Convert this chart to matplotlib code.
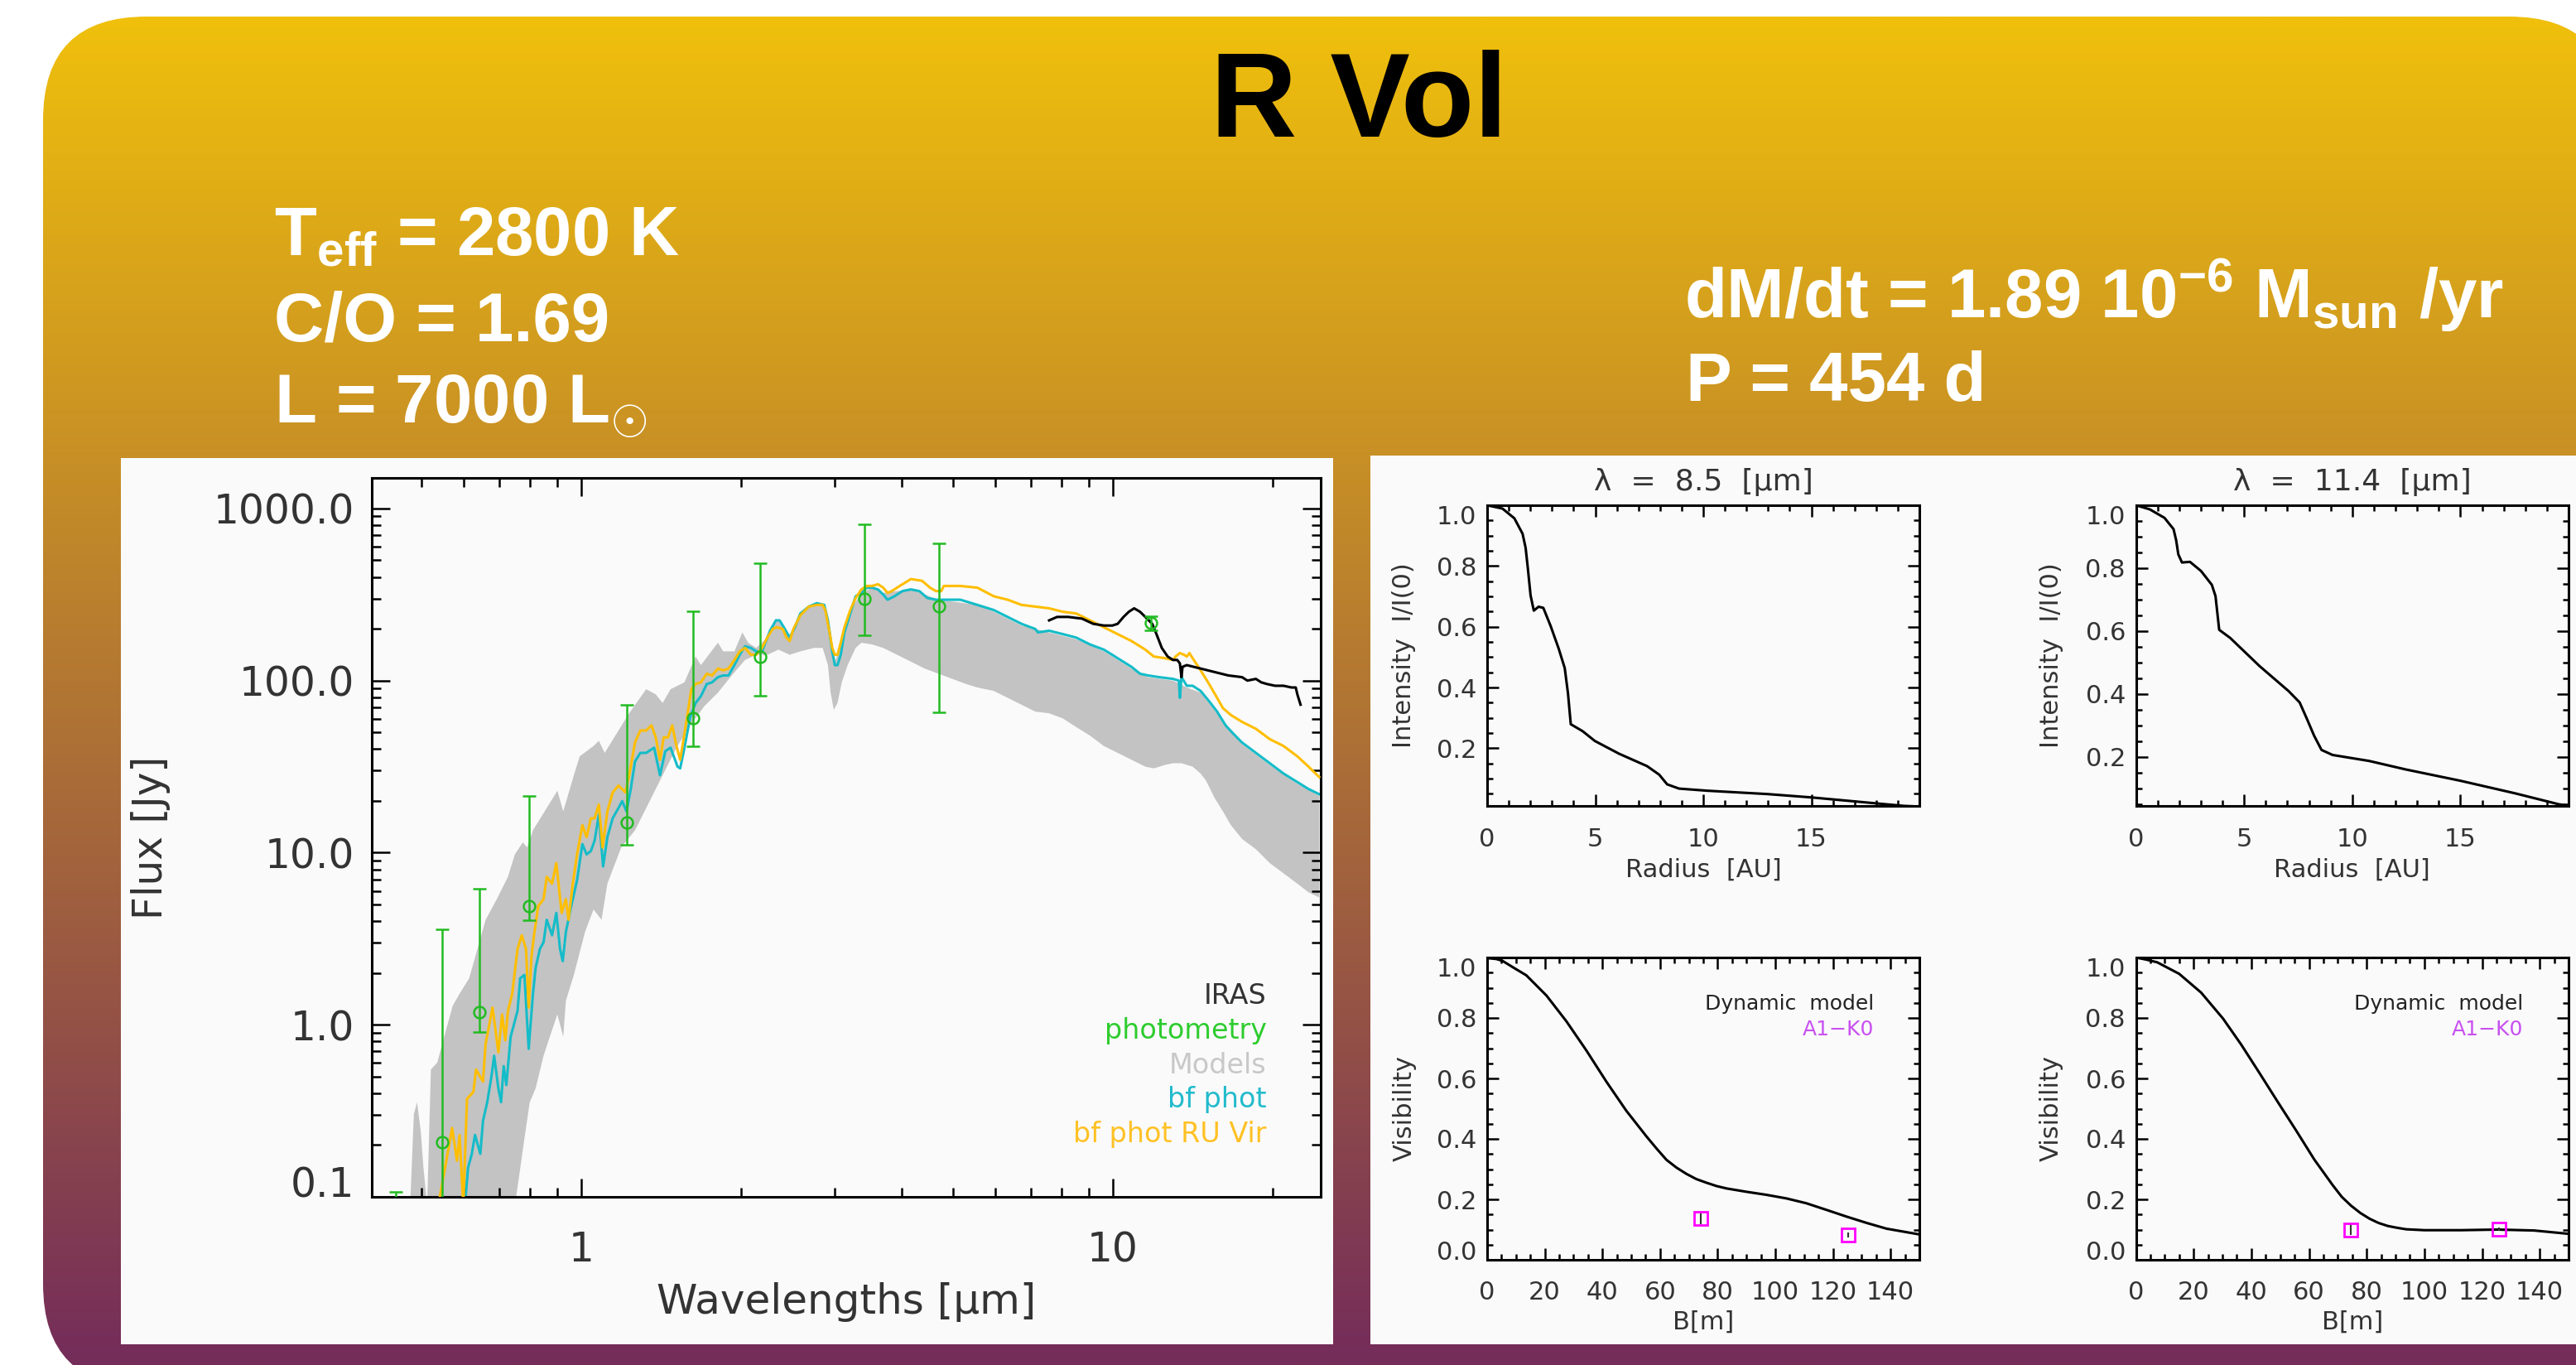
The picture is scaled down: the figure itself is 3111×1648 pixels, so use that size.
import numpy as np
import matplotlib
matplotlib.use('Agg')
import matplotlib.pyplot as plt
from matplotlib.patches import FancyBboxPatch, Rectangle
from matplotlib.ticker import FixedLocator, LogLocator, MultipleLocator, FuncFormatter, NullFormatter

plt.rcParams['font.family'] = ['DejaVu Sans']
plt.rcParams['mathtext.fontset'] = 'custom'
plt.rcParams['mathtext.rm'] = 'Liberation Sans:bold'
plt.rcParams['mathtext.it'] = 'Liberation Sans:bold'
plt.rcParams['mathtext.bf'] = 'Liberation Sans:bold'

# ---------------- SED data (log10 of wavelength [um] and flux [Jy]) ----------------
phot_wl = [0.448, 0.548, 0.644, 0.799, 1.22, 1.62, 2.17, 3.41, 4.70, 11.8]
phot_flux = [0.05, 0.207, 1.18, 4.90, 15.0, 60.8, 138, 298, 270, 216]
phot_lo = [0.04, 0.05, 0.908, 4.03, 11.05, 41.7, 81.9, 183, 65.7, 195]
phot_hi = [0.107, 3.57, 6.19, 21.3, 72.5, 254, 482, 807, 629, 237]

ruvir_logwl = [-0.269, -0.243, -0.234, -0.229, -0.222, -0.215, -0.203, -0.198, -0.185, -0.180,
               -0.167, -0.156, -0.149, -0.143, -0.138, -0.130, -0.120, -0.112, -0.104, -0.099,
               -0.094, -0.089, -0.081, -0.071, -0.065, -0.055, -0.047, -0.037, -0.029, -0.024,
               -0.016, -0.008, 0.002, 0.010, 0.018, 0.025, 0.033, 0.040, 0.049, 0.059,
               0.070, 0.083, 0.090,
               0.101, 0.111, 0.122, 0.132, 0.140, 0.148, 0.155, 0.163, 0.171, 0.179,
               0.186, 0.194, 0.202, 0.207, 0.215, 0.225, 0.236, 0.246, 0.257, 0.267,
               0.277, 0.288, 0.298, 0.308, 0.319, 0.329, 0.340, 0.350, 0.360, 0.368,
               0.379, 0.386, 0.392, 0.399, 0.412, 0.428, 0.443, 0.454, 0.459, 0.467,
               0.472, 0.477, 0.482, 0.488, 0.495, 0.506, 0.516, 0.527, 0.537, 0.547,
               0.558, 0.568, 0.576, 0.584, 0.599, 0.620, 0.641, 0.656, 0.667, 0.677,
               0.682, 0.698, 0.713, 0.745,
               0.776, 0.802, 0.828, 0.854, 0.880, 0.906, 0.931, 0.957, 0.983, 1.009,
               1.035, 1.061, 1.077, 1.098, 1.113, 1.118, 1.126, 1.134, 1.139, 1.144,
               1.150, 1.165, 1.181, 1.196, 1.207, 1.222, 1.243, 1.269, 1.295, 1.321,
               1.347, 1.368, 1.388]
ruvir_logf = [-1.05, -0.60, -0.79, -0.64, -1.05, -0.43, -0.39, -0.26, -0.33, -0.11,
              0.10, -0.16, 0.06, -0.09, 0.08, 0.18, 0.44, 0.52, 0.44, 0.10,
              0.39, 0.52, 0.69, 0.73, 0.86, 0.82, 0.94, 0.65, 0.73, 0.61,
              0.82, 0.99, 1.16, 1.09, 1.20, 1.20, 1.28, 1.03, 1.24, 1.35,
              1.39, 1.35, 1.45,
              1.64, 1.71, 1.71, 1.74, 1.67, 1.54, 1.67, 1.67, 1.74, 1.62,
              1.54, 1.69, 1.85, 1.95, 1.98, 1.99, 2.04, 2.03, 2.07, 2.06,
              2.07, 2.12, 2.17, 2.19, 2.15, 2.15, 2.19, 2.25, 2.30, 2.31,
              2.30, 2.25, 2.23, 2.30, 2.38, 2.43, 2.44, 2.44, 2.41, 2.28,
              2.19, 2.15, 2.15, 2.22, 2.31, 2.41, 2.48, 2.53, 2.55, 2.55,
              2.56, 2.54, 2.51, 2.52, 2.55, 2.59, 2.58, 2.54, 2.52, 2.52,
              2.55, 2.55, 2.55, 2.54,
              2.49, 2.47, 2.44, 2.43, 2.42, 2.40, 2.39, 2.35, 2.31, 2.27,
              2.23, 2.18, 2.14, 2.13, 2.12, 2.14, 2.16, 2.15, 2.14, 2.16,
              2.13, 2.06, 1.98, 1.90, 1.84, 1.80, 1.76, 1.72, 1.66, 1.62,
              1.56, 1.50, 1.44]

bfphot_logwl = [-0.219, -0.213, -0.206, -0.200, -0.190, -0.185, -0.177, -0.169, -0.164, -0.156,
                -0.151, -0.146, -0.141, -0.133, -0.120, -0.115, -0.107, -0.099, -0.091, -0.086,
                -0.078, -0.071, -0.065, -0.055, -0.047, -0.040, -0.035, -0.029, -0.019, -0.008,
                0.002, 0.010, 0.018, 0.025, 0.033, 0.041, 0.049, 0.059, 0.070, 0.077,
                0.085, 0.093,
                0.101, 0.111, 0.122, 0.137, 0.148, 0.158, 0.168, 0.181, 0.186, 0.194,
                0.205, 0.215, 0.225, 0.236, 0.246, 0.257, 0.267, 0.277, 0.288, 0.298,
                0.308, 0.319, 0.329, 0.340, 0.355, 0.366, 0.373, 0.381, 0.392, 0.402,
                0.412, 0.428, 0.443, 0.457, 0.464, 0.472, 0.477, 0.482, 0.488, 0.495,
                0.506, 0.516, 0.527, 0.537, 0.547, 0.558, 0.568, 0.576, 0.589, 0.604,
                0.620, 0.636, 0.651, 0.667, 0.693, 0.713, 0.745,
                0.776, 0.802, 0.828, 0.854, 0.859, 0.880, 0.906, 0.931, 0.957, 0.983,
                1.009, 1.035, 1.051, 1.066, 1.087, 1.113, 1.124, 1.126, 1.129, 1.139,
                1.150, 1.165, 1.181, 1.196, 1.212, 1.227, 1.243, 1.269, 1.295, 1.321,
                1.347, 1.368, 1.388]
bfphot_logf = [-1.05, -0.83, -0.75, -0.64, -0.75, -0.56, -0.45, -0.30, -0.18, -0.37,
               -0.45, -0.24, -0.35, -0.07, 0.08, 0.27, 0.29, -0.14, 0.18, 0.33,
               0.44, 0.48, 0.61, 0.52, 0.65, 0.44, 0.37, 0.54, 0.69, 0.84,
               1.05, 0.99, 1.01, 1.07, 1.22, 0.92, 1.09, 1.20, 1.26, 1.30,
               1.24, 1.37,
               1.53, 1.58, 1.58, 1.61, 1.45, 1.59, 1.61, 1.50, 1.49, 1.61,
               1.79, 1.87, 1.91, 1.98, 1.99, 2.02, 2.03, 2.03, 2.09, 2.15,
               2.20, 2.19, 2.17, 2.17, 2.29, 2.35, 2.35, 2.31, 2.25, 2.31,
               2.39, 2.43, 2.45, 2.44, 2.35, 2.17, 2.09, 2.09, 2.15, 2.28,
               2.39, 2.49, 2.51, 2.54, 2.54, 2.53, 2.50, 2.47, 2.49, 2.52,
               2.53, 2.52, 2.48, 2.47, 2.47, 2.47, 2.44,
               2.41, 2.37, 2.33, 2.30, 2.28, 2.29, 2.27, 2.25, 2.21, 2.18,
               2.13, 2.08, 2.04, 2.03, 2.02, 2.01, 2.00, 1.90, 2.02, 1.97,
               1.97, 1.94, 1.88, 1.82, 1.74, 1.69, 1.64, 1.58, 1.52, 1.46,
               1.41, 1.37, 1.34]

iras_logwl = [0.880, 0.895, 0.916, 0.942, 0.963, 0.983, 0.999, 1.009, 1.020, 1.030,
              1.040, 1.051, 1.061, 1.074, 1.082, 1.092, 1.103, 1.113, 1.121, 1.126,
              1.129, 1.131, 1.139, 1.165, 1.191, 1.217, 1.243, 1.253, 1.269, 1.279,
              1.290, 1.305, 1.321, 1.336, 1.344, 1.347, 1.353]
iras_logf = [2.35, 2.37, 2.37, 2.36, 2.33, 2.32, 2.32, 2.33, 2.37, 2.40,
             2.42, 2.40, 2.37, 2.33, 2.27, 2.19, 2.14, 2.12, 2.12, 2.10,
             2.02, 2.08, 2.09, 2.07, 2.05, 2.03, 2.02, 2.00, 2.01, 1.99,
             1.98, 1.97, 1.97, 1.96, 1.96, 1.92, 1.86]

# envelope of the grid of models (upper edge, lower edge)
models_top_logwl = [-0.322, -0.315, -0.309, -0.302, -0.297, -0.290, -0.283, -0.271, -0.258, -0.242,
                    -0.229, -0.211, -0.200, -0.180, -0.159, -0.138, -0.125, -0.110, -0.102, -0.091,
                    -0.065, -0.045, -0.034, -0.014, -0.003, 0.023, 0.033, 0.044, 0.064, 0.090,
                    0.122, 0.140, 0.153, 0.168, 0.194, 0.215, 0.225, 0.257, 0.267, 0.288,
                    0.303, 0.314, 0.329, 0.350, 0.366, 0.381, 0.392, 0.412, 0.443, 0.457,
                    0.464, 0.472, 0.477, 0.488, 0.506, 0.527, 0.547, 0.568, 0.620, 0.672,
                    0.745,
                    0.776, 0.828, 0.880, 0.931, 0.983, 1.035, 1.066, 1.113, 1.139, 1.165,
                    1.196, 1.243, 1.295, 1.347, 1.388]
models_top_logf = [-1.05, -0.52, -0.45, -0.62, -0.83, -1.05, -0.26, -0.22, -0.07, 0.11,
                   0.18, 0.27, 0.39, 0.61, 0.73, 0.86, 0.99, 1.06, 1.03, 1.13,
                   1.26, 1.36, 1.24, 1.45, 1.56, 1.62, 1.65, 1.58, 1.68, 1.81,
                   1.95, 1.92, 1.87, 1.95, 1.99, 2.14, 2.09, 2.22, 2.17, 2.17,
                   2.28, 2.22, 2.19, 2.25, 2.36, 2.31, 2.25, 2.39, 2.45, 2.44,
                   2.35, 2.17, 2.11, 2.20, 2.41, 2.51, 2.54, 2.51, 2.53, 2.47,
                   2.44,
                   2.40, 2.32, 2.28, 2.24, 2.17, 2.07, 2.02, 2.00, 1.96, 1.93,
                   1.81, 1.63, 1.51, 1.40, 1.33]
models_bot_logwl = [-0.125, -0.117, -0.107, -0.097, -0.086, -0.071, -0.055, -0.045, -0.034, -0.029,
                    -0.014, 0.007, 0.023, 0.038, 0.049, 0.075,
                    0.101, 0.127, 0.153, 0.179, 0.205, 0.231, 0.257, 0.283, 0.308, 0.329,
                    0.350, 0.371, 0.392, 0.412, 0.438, 0.454, 0.464, 0.469, 0.475, 0.482,
                    0.490, 0.501, 0.516, 0.527, 0.547, 0.568, 0.594, 0.620, 0.646, 0.672,
                    0.698, 0.724, 0.745,
                    0.776, 0.802, 0.828, 0.854, 0.880, 0.906, 0.931, 0.957, 0.983, 1.009,
                    1.035, 1.061, 1.077, 1.098, 1.113, 1.129, 1.150, 1.165, 1.175, 1.191,
                    1.207, 1.222, 1.243, 1.269, 1.295, 1.321, 1.347, 1.368, 1.388]
models_bot_logf = [-1.05, -0.88, -0.66, -0.45, -0.37, -0.18, -0.03, 0.06, -0.07, 0.14,
                   0.29, 0.54, 0.67, 0.61, 0.82, 1.03,
                   1.13, 1.29, 1.45, 1.61, 1.74, 1.85, 1.93, 2.03, 2.12, 2.15,
                   2.15, 2.18, 2.15, 2.17, 2.19, 2.19, 2.09, 1.93, 1.83, 1.87,
                   1.99, 2.09, 2.19, 2.22, 2.21, 2.19, 2.15, 2.11, 2.07, 2.04,
                   2.01, 1.98, 1.96,
                   1.94, 1.90, 1.86, 1.82, 1.81, 1.78, 1.73, 1.68, 1.62, 1.58,
                   1.54, 1.50, 1.49, 1.51, 1.52, 1.52, 1.50, 1.46, 1.42, 1.32,
                   1.24, 1.16, 1.08, 1.02, 0.94, 0.88, 0.82, 0.77, 0.74]

# ---------------- intensity profiles ----------------
r_85 = [0, 0.71, 1.26, 1.64, 1.78, 1.88, 2.01, 2.16, 2.38, 2.60, 2.94, 3.31, 3.59, 3.74,
        3.87, 4.42, 4.98, 6.10, 7.40, 7.96, 8.33, 8.88, 10.2, 12.97, 15.0, 17.6, 19.3, 20.0]
i_85 = [1.0, 0.989, 0.957, 0.906, 0.86, 0.795, 0.703, 0.653, 0.666, 0.662, 0.602, 0.528, 0.464, 0.381,
        0.279, 0.256, 0.224, 0.182, 0.141, 0.113, 0.081, 0.067, 0.060, 0.049, 0.038, 0.021, 0.010, 0.008]
r_114 = [0, 0.64, 1.32, 1.74, 1.86, 1.96, 2.13, 2.50, 3.01, 3.51, 3.68, 3.85, 4.36, 5.71,
         7.06, 7.57, 7.91, 8.24, 8.58, 9.09, 10.78, 12.47, 15.0, 17.53, 19.56, 20.0]
i_114 = [1.0, 0.987, 0.96, 0.924, 0.889, 0.844, 0.818, 0.82, 0.791, 0.747, 0.711, 0.604, 0.578, 0.489,
         0.409, 0.373, 0.32, 0.267, 0.222, 0.206, 0.187, 0.16, 0.124, 0.084, 0.049, 0.045]

# ---------------- visibilities ----------------
b_85 = [0, 3.2, 5.3, 9.4, 13.6, 20.6, 27.5, 34.4, 41.4, 48.3, 55.3, 58.8, 62.2, 65.7, 69.2,
        72.6, 76.1, 79.6, 83.1, 90.0, 96.9, 103.9, 110.8, 117.8, 124.7, 131.7, 138.6, 150.0]
v_85 = [0.998, 0.995, 0.989, 0.965, 0.941, 0.874, 0.789, 0.693, 0.589, 0.493, 0.408, 0.368, 0.331, 0.305,
        0.284, 0.267, 0.255, 0.244, 0.236, 0.225, 0.215, 0.203, 0.187, 0.165, 0.143, 0.122, 0.103, 0.084]
b_114 = [0, 3.6, 7.4, 15.0, 22.6, 30.2, 36.5, 42.9, 49.2, 55.6, 61.9, 68.3, 71.4, 74.6, 77.8,
         81.0, 84.1, 87.3, 90.5, 93.7, 100.0, 112.7, 125.4, 138.0, 150.0]
v_114 = [1.0, 0.993, 0.984, 0.946, 0.884, 0.798, 0.712, 0.617, 0.522, 0.427, 0.331, 0.246, 0.208, 0.179,
         0.155, 0.136, 0.122, 0.112, 0.106, 0.101, 0.098, 0.098, 0.100, 0.097, 0.086]
obs_b_85 = [74.0, 125.4]
obs_v_85 = [0.136, 0.083]
obs_e_85 = [0.018, 0.008]
obs_b_114 = [74.4, 126.0]
obs_v_114 = [0.100, 0.101]
obs_e_114 = [0.018, 0.006]

W, H = 3111, 1648
fig = plt.figure(figsize=(W / 100, H / 100), dpi=100)

# ---------------- slide background ----------------
bg = fig.add_axes([0, 0, 1, 1])
bg.axis('off')
top_c = np.array([240, 192, 12]) / 255.0
bot_c = np.array([116, 44, 90]) / 255.0
t = np.linspace(0, 1, 600)[:, None, None]
grad = top_c[None, None, :] * (1 - t) + bot_c[None, None, :] * t
im = bg.imshow(grad, extent=(0, W, H, 20), aspect='auto', interpolation='bilinear')
box = FancyBboxPatch((52, 20), 3155 - 52, 1675 - 20, boxstyle='round,pad=0,rounding_size=125',
                     facecolor='none', edgecolor='none')
bg.add_patch(box)
im.set_clip_path(box)
bg.add_patch(Rectangle((146, 553), 1610 - 146, 1623 - 553, facecolor='#fafafa', edgecolor='none'))
bg.add_patch(Rectangle((1655, 550), W - 1655 + 10, 1623 - 550, facecolor='#fafafa', edgecolor='none'))
bg.set_xlim(0, W)
bg.set_ylim(H, 0)

bg.text(1641, 165, 'R Vol', ha='center', va='baseline', fontsize=104, fontweight='bold',
        family='Liberation Sans', color='black')
hdr = dict(fontsize=60, fontweight='bold', family='Liberation Sans', color='white', va='baseline')
bg.text(331, 308, r'T$_{\mathrm{eff}}$ = 2800 K', **hdr)
bg.text(331, 411, 'C/O = 1.69', **hdr)
bg.text(331, 511, r'L = 7000 L$_{\odot}$', **hdr)
bg.text(2034, 384, r'dM/dt = 1.89 10$^{\mathrm{-6}}$ M$_{\mathrm{sun}}$ /yr', **hdr)
bg.text(2036, 484, 'P = 454 d', **hdr)


def idl_style(ax, fs, major, minor):
    ax.set_facecolor('#fafafa')
    for s in ax.spines.values():
        s.set_linewidth(2.2)
        s.set_color('black')
    ax.tick_params(which='both', direction='in', top=True, right=True, color='black',
                   labelcolor='#333333', labelsize=fs, width=1.8)
    ax.tick_params(which='major', length=major)
    ax.tick_params(which='minor', length=minor)


# ---------------- SED ----------------
green = '#22bb22'
ax = fig.add_axes([449 / W, 1 - 1445 / H, (1595 - 449) / W, (1445 - 577) / H])
ax.set_xscale('log')
ax.set_yscale('log')
poly_x = list(models_top_logwl) + list(models_bot_logwl[::-1])
poly_y = list(models_top_logf) + list(models_bot_logf[::-1])
ax.fill(10 ** np.array(poly_x), 10 ** np.array(poly_y), color='#c3c3c3', lw=0, zorder=1)
ax.plot(10 ** np.array(bfphot_logwl), 10 ** np.array(bfphot_logf), color='#14bcc8', lw=2.2, zorder=2)
ax.plot(10 ** np.array(ruvir_logwl), 10 ** np.array(ruvir_logf), color='#ffbe00', lw=2.2, zorder=3)
ax.plot(10 ** np.array(iras_logwl), 10 ** np.array(iras_logf), color='black', lw=2.2, zorder=4)
pf = np.array(phot_flux)
yerr = [pf - np.array(phot_lo), np.array(phot_hi) - pf]
ax.errorbar(phot_wl, phot_flux, yerr=yerr, fmt='o', mfc='none', mec=green, ms=10, mew=1.8,
            ecolor=green, elinewidth=1.8, capsize=5.5, capthick=1.8, zorder=5)
ax.set_xlim(0.4035, 24.6)
ax.set_ylim(0.1, 1506)
idl_style(ax, 35, 16, 8)
ax.tick_params(axis='y', pad=15)
ax.tick_params(axis='x', pad=29)
ax.yaxis.set_major_locator(FixedLocator([0.1, 1, 10, 100, 1000]))
ax.yaxis.set_major_formatter(FuncFormatter(lambda v, p: '%.1f' % v))
ax.yaxis.set_minor_locator(LogLocator(base=10, subs=range(2, 10), numticks=20))
ax.yaxis.set_minor_formatter(NullFormatter())
ax.xaxis.set_major_locator(FixedLocator([1, 10]))
ax.xaxis.set_major_formatter(FuncFormatter(lambda v, p: '%d' % v))
ax.xaxis.set_minor_locator(LogLocator(base=10, subs=range(2, 10), numticks=20))
ax.xaxis.set_minor_formatter(NullFormatter())
ax.yaxis.get_major_ticks()[0].label1.set_verticalalignment('baseline')
ax.set_xlabel('Wavelengths [μm]', fontsize=36, color='#333333')
ax.set_ylabel('Flux [Jy]', fontsize=35, color='#333333')
ax.xaxis.label.set_va('center')
ax.yaxis.label.set_va('center')
ax.xaxis.set_label_coords(0.5, -0.146)
ax.yaxis.set_label_coords(-0.233, 0.5)
legend_items = [('IRAS', '#333333'), ('photometry', '#2ecc2e'), ('Models', '#c8c8c8'),
                ('bf phot', '#22bbcc'), ('bf phot RU Vir', '#ffc125')]
for k, (txt, col) in enumerate(legend_items):
    ax.text(0.943, 0.268 - 0.048 * k, txt, transform=ax.transAxes, ha='right', va='baseline',
            fontsize=24, color=col)

# ---------------- intensity profiles ----------------
int_panels = [
    ([1796 / W, 1 - 973 / H, 522 / W, 363 / H], r_85, i_85, 'λ  =  8.5  [μm]', 0.01, -0.192),
    ([2579.5 / W, 1 - 973 / H, 522.5 / W, 363 / H], r_114, i_114, 'λ  =  11.4  [μm]', 0.044, -0.196),
]
for rect, rr, ii, ttl, ybot, ylx in int_panels:
    a = fig.add_axes(rect)
    a.plot(rr, ii, color='black', lw=2.2)
    a.set_xlim(0, 20)
    a.set_ylim(ybot, 1.0)
    idl_style(a, 22, 10, 5)
    a.set_xticks([0, 5, 10, 15])
    a.xaxis.set_minor_locator(MultipleLocator(1))
    a.set_yticks([0.2, 0.4, 0.6, 0.8, 1.0])
    a.yaxis.set_major_formatter(FuncFormatter(lambda v, p: '%.1f' % v))
    a.yaxis.set_minor_locator(MultipleLocator(0.05))
    a.tick_params(axis='y', pad=9)
    a.tick_params(axis='x', pad=19)
    a.yaxis.get_major_ticks()[-1].label1.set_verticalalignment('top')
    a.text(0.5, 1.05, ttl, transform=a.transAxes, ha='center', va='baseline', fontsize=26,
           color='#333333')
    a.set_xlabel('Radius  [AU]', fontsize=22, color='#333333')
    a.set_ylabel('Intensity  I/I(0)', fontsize=22, color='#333333')
    a.xaxis.label.set_va('center')
    a.yaxis.label.set_va('center')
    a.xaxis.set_label_coords(0.5, -0.212)
    a.yaxis.set_label_coords(ylx, 0.5)

# ---------------- visibilities ----------------
vis_panels = [
    ([1796 / W, 1 - 1521 / H, 522 / W, 365 / H], b_85, v_85, obs_b_85, obs_v_85, obs_e_85, -0.192),
    ([2579.5 / W, 1 - 1521 / H, 522.5 / W, 365 / H], b_114, v_114, obs_b_114, obs_v_114, obs_e_114, -0.196),
]
for rect, bb, vv, ob, ov, oe, ylx in vis_panels:
    a = fig.add_axes(rect)
    a.plot(bb, vv, color='black', lw=2.2)
    a.errorbar(ob, ov, yerr=oe, fmt='s', mfc='none', mec='#ff00ff', ms=11, mew=2,
               ecolor='#333333', elinewidth=1.5, capsize=0)
    a.set_xlim(0, 150)
    a.set_ylim(0, 1.0)
    idl_style(a, 22, 10, 5)
    a.set_xticks(range(0, 141, 20))
    a.xaxis.set_minor_locator(MultipleLocator(5))
    a.set_yticks([0.0, 0.2, 0.4, 0.6, 0.8, 1.0])
    a.yaxis.set_major_formatter(FuncFormatter(lambda v, p: '%.1f' % v))
    a.yaxis.set_minor_locator(MultipleLocator(0.05))
    a.tick_params(axis='y', pad=9)
    a.tick_params(axis='x', pad=18)
    yt = a.yaxis.get_major_ticks()
    yt[0].label1.set_verticalalignment('baseline')
    yt[-1].label1.set_verticalalignment('top')
    a.text(0.895, 0.827, 'Dynamic  model', transform=a.transAxes, ha='right', va='baseline',
           fontsize=18, color='#222222')
    a.text(0.895, 0.742, 'A1−K0', transform=a.transAxes, ha='right', va='baseline',
           fontsize=18, color='#c850f0')
    a.set_xlabel('B[m]', fontsize=22, color='#333333')
    a.set_ylabel('Visibility', fontsize=22, color='#333333')
    a.xaxis.label.set_va('center')
    a.yaxis.label.set_va('center')
    a.xaxis.set_label_coords(0.5, -0.205)
    a.yaxis.set_label_coords(ylx, 0.5)

fig.savefig('out.png', dpi=100)
